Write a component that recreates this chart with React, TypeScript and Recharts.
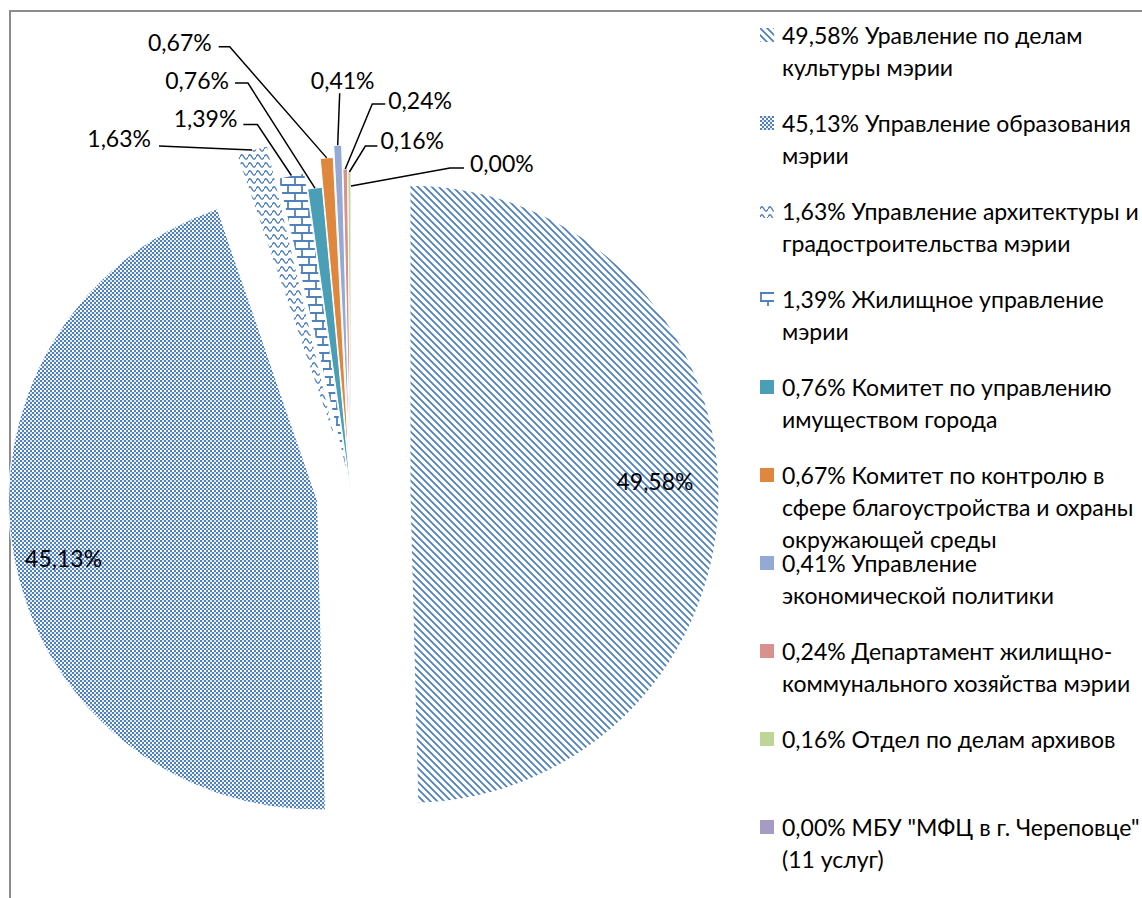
import { PieChart, Pie, Cell, Sector, Legend } from "recharts"

const FONT = "Lato, 'Open Sans', sans-serif"
const RADIAN = Math.PI / 180

const names = [
  "Уравление по делам\nкультуры мэрии",
  "Управление образования\nмэрии",
  "Управление архитектуры и\nградостроительства мэрии",
  "Жилищное управление\nмэрии",
  "Комитет по управлению\nимуществом города",
  "Комитет по контролю в\nсфере благоустройства и охраны\nокружающей среды",
  "Управление\nэкономической политики",
  "Департамент жилищно-\nкоммунального хозяйства мэрии",
  "Отдел по делам архивов",
  "МБУ \"МФЦ в г. Череповце\"\n(11 услуг)"
]
const values = [49.58, 45.13, 1.63, 1.39, 0.76, 0.67, 0.41, 0.24, 0.16, 0.0]
const fills = [
  "url(#pStripes)",
  "url(#pChecks)",
  "url(#pWave)",
  "url(#pBrick)",
  "#4a9fb7",
  "#df873c",
  "#94aad6",
  "#d8918e",
  "#bed595",
  "#a89bc3"
]

// how far each slice is pulled out of the pie, px
const explode = [59, 34, 50, 16, 0, 29, 41, 17, 14, 0]

// label placement: inside slices, or outside with an elbow leader line
// (offsets are relative to the slice's outer point)
const labelLayout: any[] = [
  { mode: "in", r: 245, dy: -10 },
  { mode: "in", r: 258, dy: 11 },
  { mode: "out", elbow: [-93, -4], end: [-93, -4], text: [-101, -12], anchor: "end" },
  { mode: "out", elbow: [-34, -51], end: [-48, -51], text: [-54, -58], anchor: "end" },
  { mode: "out", elbow: [-67, -105], end: [-80, -105], text: [-86, -108], anchor: "end" },
  { mode: "out", elbow: [-97, -111], end: [-108, -111], text: [-115, -116], anchor: "end" },
  { mode: "out", elbow: [2, -52], end: [2, -52], text: [5, -65], anchor: "middle" },
  { mode: "out", elbow: [27, -65], end: [40, -65], text: [43, -69], anchor: "start" },
  { mode: "out", elbow: [16, -26], end: [28, -26], text: [31, -32], anchor: "start" },
  { mode: "out", elbow: [99, -18], end: [113, -18], text: [119, -23], anchor: "start" }
]

const fmt = (v: number) => v.toFixed(2).replace(".", ",")

const data = names.map((name, i) => ({ name, value: values[i] }))

const renderSlice = (props: any) => {
  const i = names.indexOf(props.name)
  const d = explode[i] ?? 0
  const rad = -props.midAngle * RADIAN
  return <Sector {...props} cx={props.cx + d * Math.cos(rad)} cy={props.cy + d * Math.sin(rad)} />
}

const renderLabel = (props: any) => {
  const { cx, cy, midAngle, outerRadius, index } = props
  const lay = labelLayout[index]
  const ux = Math.cos(-midAngle * RADIAN)
  const uy = Math.sin(-midAngle * RADIAN)
  const text = fmt(values[index]) + "%"
  const style = { fontFamily: FONT, fontSize: 23, fill: "#000" }
  if (lay.mode === "in") {
    const r = explode[index] + lay.r
    return (
      <text x={cx + r * ux} y={cy + r * uy + lay.dy} textAnchor="middle" dominantBaseline="central" style={style}>
        {text}
      </text>
    )
  }
  const ax = cx + (outerRadius + explode[index]) * ux
  const ay = cy + (outerRadius + explode[index]) * uy
  const pts = `${ax},${ay} ${ax + lay.elbow[0]},${ay + lay.elbow[1]} ${ax + lay.end[0]},${ay + lay.end[1]}`
  return (
    <g>
      <polyline points={pts} fill="none" stroke="#000" strokeWidth={1.5} />
      <text x={ax + lay.text[0]} y={ay + lay.text[1]} textAnchor={lay.anchor} dominantBaseline="central" style={style}>
        {text}
      </text>
    </g>
  )
}

const renderLegend = () => (
  <div style={{ fontFamily: FONT, fontSize: 23, lineHeight: "32px", color: "#000" }}>
    {names.map((n, i) => (
      <div key={i} style={{ position: "relative", height: 88, paddingLeft: 25 }}>
        <svg width={14} height={14} style={{ position: "absolute", left: 3, top: 9 }}>
          <rect width={14} height={14} fill={fills[i]} />
        </svg>
        <div style={{ whiteSpace: "pre" }}>{`${fmt(values[i])}% ${n}`}</div>
      </div>
    ))}
  </div>
)

export default function App() {
  return (
    <div style={{ position: "relative", width: 1142, height: 898, overflow: "hidden", background: "#fff" }}>
      <style>{"body{margin:0}"}</style>
      <svg width={0} height={0} style={{ position: "absolute" }}>
        <defs>
          <pattern id="pStripes" patternUnits="userSpaceOnUse" width={7} height={7}>
            <path d="M-1,-1 L8,8 M-1,6 L1,8 M6,-1 L8,1" stroke="#4f81bd" strokeWidth={1.8} />
          </pattern>
          <pattern id="pChecks" patternUnits="userSpaceOnUse" width={4} height={4}>
            <rect x={0} y={0} width={2} height={2} fill="#4f81bd" />
            <rect x={2} y={2} width={2} height={2} fill="#4f81bd" />
            <rect x={2} y={0} width={2} height={2} fill="#dfe7f3" />
          </pattern>
          <pattern id="pWave" patternUnits="userSpaceOnUse" width={8} height={8}>
            <path d="M0,5 C1.5,2 2.5,2 4,5 C5.5,8 6.5,8 8,5" fill="none" stroke="#4f81bd" strokeWidth={1.5} />
          </pattern>
          <pattern id="pBrick" patternUnits="userSpaceOnUse" width={14} height={16}>
            <path d="M0,1 H14 M0,9 H14 M1,1 V9 M8,9 V16" fill="none" stroke="#4f81bd" strokeWidth={1.8} />
          </pattern>
        </defs>
      </svg>
      <div
        style={{
          position: "absolute",
          left: 9,
          top: 10,
          width: 1200,
          height: 1000,
          borderTop: "2px solid #8c8c8c",
          borderLeft: "2px solid #8c8c8c"
        }}
      />
      <div style={{ position: "absolute", left: 0, top: 0 }}>
        <PieChart width={1142} height={898} margin={{ top: 0, right: 0, bottom: 0, left: 0 }}>
          <Pie
            data={data}
            dataKey="value"
            nameKey="name"
            cx={351}
            cy={495}
            outerRadius={309}
            startAngle={90}
            endAngle={-270}
            stroke="#fff"
            strokeWidth={1}
            shape={renderSlice}
            label={renderLabel}
            labelLine={false}
            isAnimationActive={false}
          >
            {data.map((d, i) => (
              <Cell key={d.name} fill={fills[i]} />
            ))}
          </Pie>
          <Legend
            content={renderLegend}
            layout="vertical"
            align="right"
            verticalAlign="top"
            wrapperStyle={{ left: 757, top: 19, width: 385 }}
          />
        </PieChart>
      </div>
    </div>
  )
}
